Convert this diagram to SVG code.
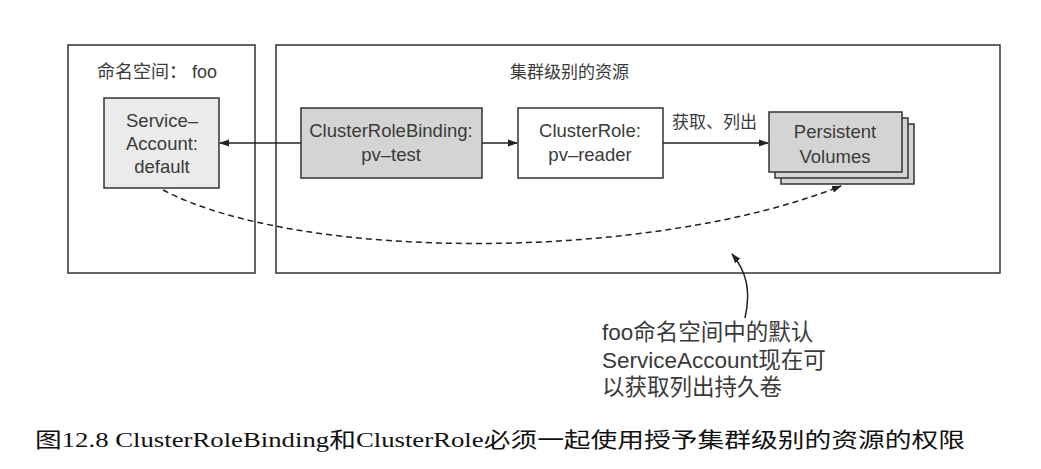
<svg xmlns="http://www.w3.org/2000/svg" width="1041" height="469" viewBox="0 0 1041 469">
<style>
.frame{fill:#fff;stroke:#333;stroke-width:1.5}
.node{stroke:#333;stroke-width:1.5}
.t{font-family:"Liberation Sans","Noto Sans CJK SC",sans-serif;fill:#3a3a3a}
.c{text-anchor:middle;font-size:18.5px}
.line{fill:none;stroke:#222;stroke-width:1.5}
</style>
<defs>
<marker id="ah" viewBox="0 0 10 10" refX="9" refY="5" markerWidth="10" markerHeight="10" markerUnits="userSpaceOnUse" orient="auto">
<path d="M0,1.5 L10,5 L0,8.5 Z" fill="#222"/>
</marker>
</defs>
<rect width="1041" height="469" fill="#fff"/>
<g id="namespace">
<rect class="frame" x="68" y="45" width="187" height="228"/>
<text class="t" x="97" y="78" font-size="18">命名空间： foo</text>
</g>
<g id="cluster">
<rect class="frame" x="276" y="45" width="724" height="228"/>
<text class="t" x="510" y="78" font-size="17">集群级别的资源</text>
</g>
<g id="serviceaccount">
<rect class="node" x="104" y="98" width="115" height="90" fill="#ebebeb"/>
<text class="t c" x="162" y="127">Service–</text>
<text class="t c" x="162" y="150">Account:</text>
<text class="t c" x="162" y="173">default</text>
</g>
<g id="clusterrolebinding">
<rect class="node" x="301" y="108" width="181" height="70" fill="#d4d4d4"/>
<text class="t c" x="391" y="137">ClusterRoleBinding:</text>
<text class="t c" x="391" y="161">pv–test</text>
</g>
<g id="clusterrole">
<rect class="node" x="518" y="108" width="145" height="70" fill="#fff"/>
<text class="t c" x="590" y="137">ClusterRole:</text>
<text class="t c" x="590" y="161">pv–reader</text>
</g>
<g id="persistentvolumes">
<rect class="node" x="781" y="124" width="133" height="60" fill="#d4d4d4"/>
<rect class="node" x="775" y="118" width="133" height="60" fill="#d4d4d4"/>
<rect class="node" x="769" y="112" width="133" height="60" fill="#d4d4d4"/>
<text class="t c" x="835" y="138">Persistent</text>
<text class="t c" x="835" y="163">Volumes</text>
</g>
<g id="connectors">
<line class="line" x1="301" y1="143" x2="220" y2="143" marker-end="url(#ah)"/>
<line class="line" x1="482" y1="143" x2="517" y2="143" marker-end="url(#ah)"/>
<line class="line" x1="663" y1="143" x2="768" y2="143" marker-end="url(#ah)"/>
<text class="t" x="672" y="128" font-size="17">获取、列出</text>
<path class="line" d="M163,190 C300,262 650,262 841,186" stroke-dasharray="6,4" marker-end="url(#ah)"/>
<path class="line" d="M745,318 C751,292 747,272 732,254" marker-end="url(#ah)"/>
</g>
<g id="callout">
<text class="t" x="602" y="340" font-size="22.5">foo命名空间中的默认</text>
<text class="t" x="602" y="368" font-size="22.5">ServiceAccount现在可</text>
<text class="t" x="602" y="395" font-size="22.5">以获取列出持久卷</text>
</g>
<text x="35" y="447" font-size="21" fill="#111" font-family="'Liberation Serif','Noto Sans CJK SC',serif" textLength="930" lengthAdjust="spacingAndGlyphs">图12.8 ClusterRoleBinding和ClusterRole必须一起使用授予集群级别的资源的权限</text>
</svg>
